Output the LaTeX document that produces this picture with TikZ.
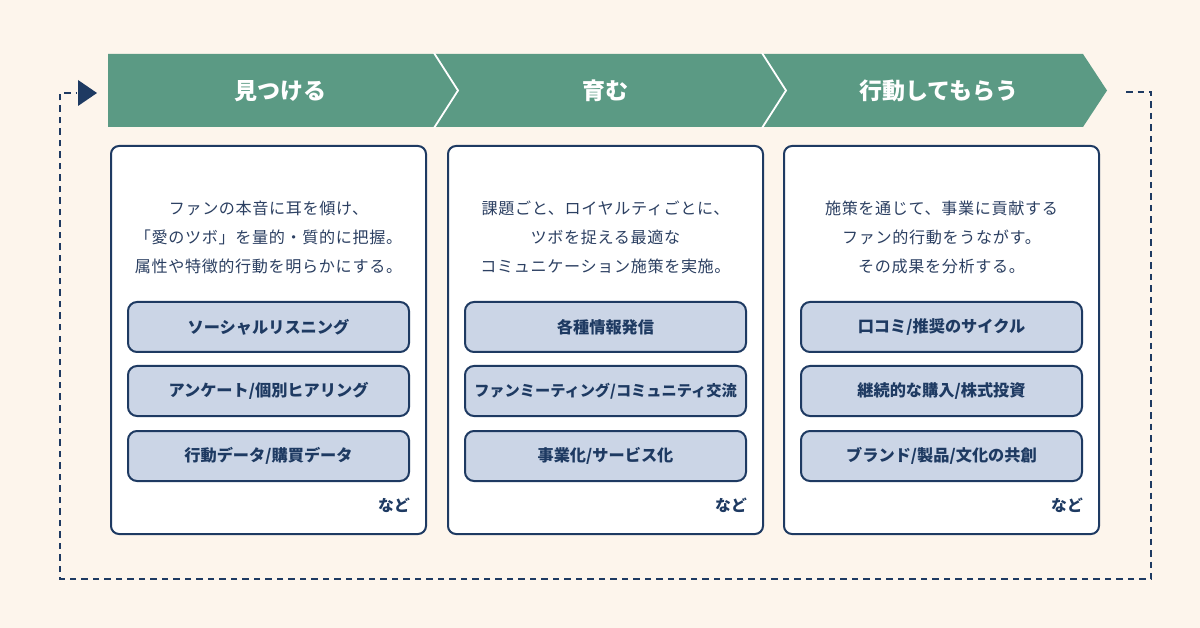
\documentclass[tikz,border=0pt]{standalone}
\usepackage{fontspec}
\setmainfont{Noto Sans CJK JP}
\newfontfamily\spacedfont[LetterSpace=4]{Noto Sans CJK JP}
\definecolor{bgc}{HTML}{FDF5EC}
\definecolor{greenc}{HTML}{5B9A84}
\definecolor{navy}{HTML}{1E3A62}
\definecolor{bodytxt}{HTML}{2C4062}
\definecolor{itemfill}{HTML}{CBD5E6}
\tikzset{
  card/.style={draw=navy, line width=2pt, fill=white, rounded corners=8pt, minimum width=315pt, minimum height=388pt, anchor=north west, inner sep=0pt},
  itembox/.style={draw=navy, line width=2pt, fill=itemfill, rounded corners=9pt, minimum width=281pt, minimum height=50pt, inner sep=0pt, text=navy, font=\fontsize{16.2}{18}\selectfont\bfseries},
  bodytext/.style={align=center, text=bodytxt, font=\spacedfont\fontsize{16.1}{29}\selectfont, inner sep=0pt},
  headtext/.style={text=white, font=\fontsize{23}{25}\selectfont\bfseries, inner sep=0pt},
  etc/.style={anchor=east, text=navy, font=\fontsize{15.8}{17}\selectfont\bfseries, inner sep=0pt},
  loopline/.style={draw=navy, line width=2.6pt, dash pattern=on 6.5pt off 5pt},
  sepline/.style={draw=white, line width=1.8pt}
}
\begin{document}
\begin{tikzpicture}[x=1pt,y=-1pt]
\fill[bgc] (0,0) rectangle (1200,628);
\useasboundingbox (0,0) rectangle (1200,628);
% chevron band
\fill[greenc] (108,54) -- (1083,54) -- (1107,90.5) -- (1083,127) -- (108,127) -- cycle;
\draw[sepline] (434,53) -- (458,90.5) -- (434,128);
\draw[sepline] (762,53) -- (786,90.5) -- (762,128);
\node[headtext] (h1) at (280,91) {見つける};
\node[headtext] (h2) at (605,91) {育む};
\node[headtext] (h3) at (939,91) {行動してもらう};
% loop
\coordinate (ls) at (1126,92);
\coordinate (lr) at (1151,92);
\coordinate (lb) at (1151,579);
\coordinate (lbl) at (60,579);
\coordinate (ltl) at (60,93);
\coordinate (le) at (76,93);
\draw[loopline] (ls) -- (lr) -- (lb) -- (lbl) -- (ltl) -- (le);
\fill[navy] (78,80) -- (97,93) -- (78,106) -- cycle;
% cards
\node[card] (c1) at (110,145) {};
\node[card] (c2) at (447,145) {};
\node[card] (c3) at (783,145) {};
\node[bodytext] (t1) at (c1.north |- 0,237) {ファンの本音に耳を傾け、\\「愛のツボ」を量的・質的に把握。\\属性や特徴的行動を明らかにする。};
\node[bodytext] (t2) at (c2.north |- 0,237) {課題ごと、ロイヤルティごとに、\\ツボを捉える最適な\\コミュニケーション施策を実施。};
\node[bodytext] (t3) at (c3.north |- 0,237) {施策を通じて、事業に貢献する\\ファン的行動をうながす。\\その成果を分析する。};
\node[itembox] (a1) at (c1.north |- 0,327) {ソーシャルリスニング};
\node[itembox] (a2) at (c1.north |- 0,391) {アンケート/個別ヒアリング};
\node[itembox] (a3) at (c1.north |- 0,456) {行動データ/購買データ};
\node[itembox] (b1) at (c2.north |- 0,327) {各種情報発信};
\node[itembox, font=\fontsize{15.2}{18}\selectfont\bfseries] (b2) at (c2.north |- 0,391) {ファンミーティング/コミュニティ交流};
\node[itembox] (b3) at (c2.north |- 0,456) {事業化/サービス化};
\node[itembox] (d1) at (c3.north |- 0,327) {口コミ/推奨のサイクル};
\node[itembox] (d2) at (c3.north |- 0,391) {継続的な購入/株式投資};
\node[itembox] (d3) at (c3.north |- 0,456) {ブランド/製品/文化の共創};
\node[etc] (e1) at (a3.east |- 0,505) {など};
\node[etc] (e2) at (b3.east |- 0,505) {など};
\node[etc] (e3) at (d3.east |- 0,505) {など};
\end{tikzpicture}
\end{document}
